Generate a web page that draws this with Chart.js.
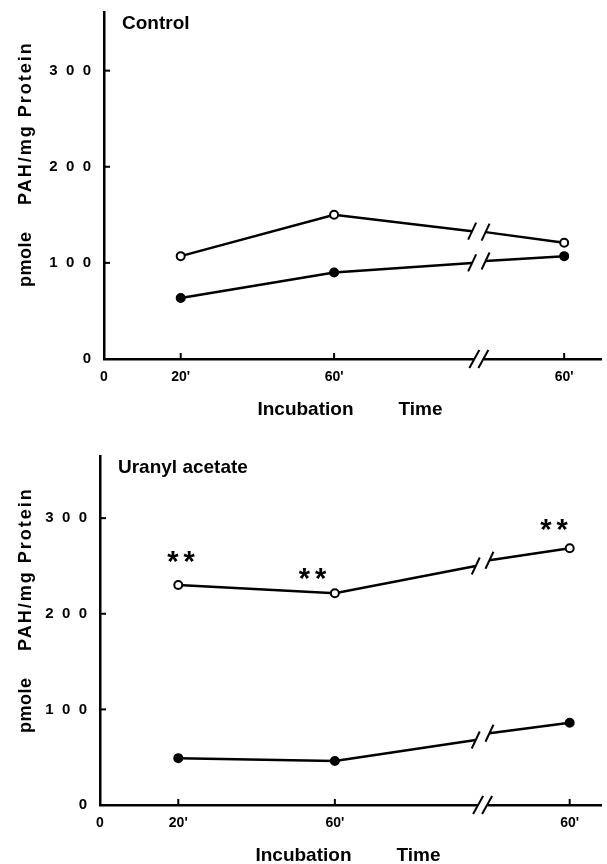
<!DOCTYPE html>
<html>
<head>
<meta charset="utf-8">
<script src="https://cdn.jsdelivr.net/npm/chart.js@4.4.1/dist/chart.umd.min.js"></script>
<style>
    html, body { margin: 0; padding: 0; background: #fff; width: 607px; height: 864px; overflow: hidden; }
    .panel { position: absolute; left: 0; width: 607px; height: 432px; }
    #p1 { top: 0; }
    #p2 { top: 432px; }
</style>
</head>
<body>
<div class="panel" id="p1"><canvas id="chartControl"></canvas></div>
<div class="panel" id="p2"><canvas id="chartUranyl"></canvas></div>

<script>
/* ── Data ─────────────────────────────────────
   x in minutes; 96 / 99.5 are the two ends of the broken axis */
const timePoints    = [20, 60, 96, 99.5, 120];
const breakIdx      = [2, 3];

const controlOpen   = [107, 150, 133, 132, 121];
const controlFilled = [63.5, 90, 100, 102, 107];
const uranylOpen    = [230, 221.5, 250, 256, 268.5];
const uranylFilled  = [49, 46, 68, 75, 86];

const xTickValues = [0, 20, 60, 120];
const xTickLabels = ['0', "20'", "60'", "60'"];
const yTickValues = [0, 100, 200, 300];
const yTickLabels = ['0', '1  0  0', '2  0  0', '3  0  0'];

// significance marks, Uranyl acetate panel
const starX = [20.7, 54.3, 116];
const starY = [262, 245, 296];

const FONT = "'Liberation Sans', Arial, sans-serif";
Chart.defaults.font.family = FONT;
Chart.defaults.color = '#000';

// ── Helpers ──────────────────────────────────
function seg(ctx, x1, y1, x2, y2) {
    ctx.beginPath();
    ctx.moveTo(x1, y1);
    ctx.lineTo(x2, y2);
    ctx.stroke();
}

function slash(ctx, x, y, w, h) {
    seg(ctx, x - w / 2, y + h / 2, x + w / 2, y - h / 2);
}

// ticks inside the frame, axis breaks, titles, asterisks
const paperDecor = {
    id: 'paperDecor',
    afterDraw(chart, args, opts) {
        const { ctx, chartArea: a } = chart;
        const xs = chart.scales.x, ys = chart.scales.y;
        ctx.save();
        ctx.strokeStyle = '#000';
        ctx.fillStyle = '#000';
        ctx.lineCap = 'butt';

        // inward tick marks
        ctx.lineWidth = 2;
        yTickValues.slice(1).forEach(v => {
            const py = ys.getPixelForValue(v);
            seg(ctx, a.left, py, a.left + 6, py);
        });
        xTickValues.slice(1).forEach(v => {
            const px = xs.getPixelForValue(v);
            seg(ctx, px, a.bottom, px, a.bottom - 6);
        });

        // break on the x axis
        const b0 = xs.getPixelForValue(timePoints[breakIdx[0]]);
        const b1 = xs.getPixelForValue(timePoints[breakIdx[1]]);
        const mid = (b0 + b1) / 2;
        ctx.fillStyle = '#fff';
        ctx.fillRect(mid - 5, a.bottom - 3, 10, 6);
        ctx.fillStyle = '#000';
        slash(ctx, mid - 4.5, a.bottom, 10, 18);
        slash(ctx, mid + 4.5, a.bottom, 10, 18);

        // breaks on the lines
        chart.data.datasets.forEach((d, di) => {
            const meta = chart.getDatasetMeta(di);
            breakIdx.forEach(i => {
                const p = meta.data[i];
                slash(ctx, p.x, p.y, 8, 17);
            });
        });

        // panel title
        ctx.textBaseline = 'middle';
        ctx.textAlign = 'left';
        ctx.font = `bold 19px ${FONT}`;
        ctx.fillText(opts.title, a.left + 18, a.top + 12);

        // x title
        const cx = (a.left + a.right) / 2;
        ctx.textAlign = 'right';
        ctx.fillText('Incubation', cx + 1, a.bottom + 51);
        ctx.textAlign = 'left';
        ctx.fillText('Time', cx + 46, a.bottom + 51);

        // y title (rotated)
        ctx.font = `bold 18px ${FONT}`;
        ctx.save();
        ctx.translate(26, a.bottom - 72);
        ctx.rotate(-Math.PI / 2);
        ctx.letterSpacing = '0.5px';
        ctx.fillText('pmole', 0, 0);
        ctx.restore();
        ctx.save();
        ctx.translate(26, a.bottom - 154);
        ctx.rotate(-Math.PI / 2);
        ctx.letterSpacing = '2px';
        ctx.fillText('PAH/mg Protein', 0, 0);
        ctx.restore();

        // ** marks
        if (opts.stars) {
            ctx.font = `bold 29px ${FONT}`;
            ctx.textAlign = 'center';
            ctx.textBaseline = 'alphabetic';
            ctx.letterSpacing = '5px';
            starX.forEach((sx, i) => {
                const px = xs.getPixelForValue(sx) + 2.5;
                const py = ys.getPixelForValue(starY[i]);
                ctx.fillText('**', px, py + 17);
            });
        }
        ctx.restore();
    }
};

function serie(vals, fill) {
    return {
        data: timePoints.map((t, i) => ({ x: t, y: vals[i] })),
        borderColor: '#000',
        borderWidth: 2.5,
        tension: 0,
        pointRadius: timePoints.map((t, i) => breakIdx.includes(i) ? 0 : 4),
        pointBackgroundColor: fill,
        pointBorderColor: '#000',
        pointBorderWidth: 2,
        segment: {
            borderColor: c => c.p0DataIndex === breakIdx[0] ? 'rgba(0,0,0,0)' : '#000'
        }
    };
}

function crearPanel(id, openVals, filledVals, cfg) {
    return new Chart(document.getElementById(id), {
        type: 'line',
        data: { datasets: [serie(openVals, '#fff'), serie(filledVals, '#000')] },
        options: {
            responsive: true,
            maintainAspectRatio: false,
            animation: false,
            layout: { padding: { top: cfg.padTop, left: 0, right: 0, bottom: 0 } },
            plugins: {
                legend: { display: false },
                tooltip: { enabled: false },
                paperDecor: { title: cfg.title, stars: cfg.stars }
            },
            scales: {
                x: {
                    type: 'linear',
                    min: 0,
                    max: cfg.xMax,
                    grid: { display: false, drawTicks: false },
                    border: { display: true, color: '#000', width: 2.5 },
                    afterBuildTicks: s => { s.ticks = xTickValues.map(v => ({ value: v })); },
                    afterFit: s => { s.height = cfg.xAxisHeight; s.paddingLeft = 0; s.paddingRight = 0; },
                    ticks: {
                        padding: 10,
                        autoSkip: false,
                        maxRotation: 0,
                        color: '#000',
                        font: { size: 14, weight: 'bold' },
                        callback: v => xTickLabels[xTickValues.indexOf(v)]
                    }
                },
                y: {
                    min: 0,
                    max: cfg.yMax,
                    grid: { display: false, drawTicks: false },
                    border: { display: true, color: '#000', width: 2.5 },
                    afterBuildTicks: s => { s.ticks = yTickValues.map(v => ({ value: v })); },
                    afterFit: s => { s.width = cfg.yAxisWidth; s.paddingTop = 0; s.paddingBottom = 0; },
                    ticks: {
                        padding: 13,
                        color: '#000',
                        font: { size: 15, weight: 'bold' },
                        callback: v => yTickLabels[yTickValues.indexOf(v)]
                    }
                }
            }
        },
        plugins: [paperDecor]
    });
}

crearPanel('chartControl', controlOpen, controlFilled, {
    title: 'Control', stars: false,
    padTop: 12, xMax: 129.6, yMax: 361, xAxisHeight: 73, yAxisWidth: 104
});

crearPanel('chartUranyl', uranylOpen, uranylFilled, {
    title: 'Uranyl acetate', stars: true,
    padTop: 24, xMax: 128, yMax: 365, xAxisHeight: 59, yAxisWidth: 100
});
</script>
</body>
</html>
